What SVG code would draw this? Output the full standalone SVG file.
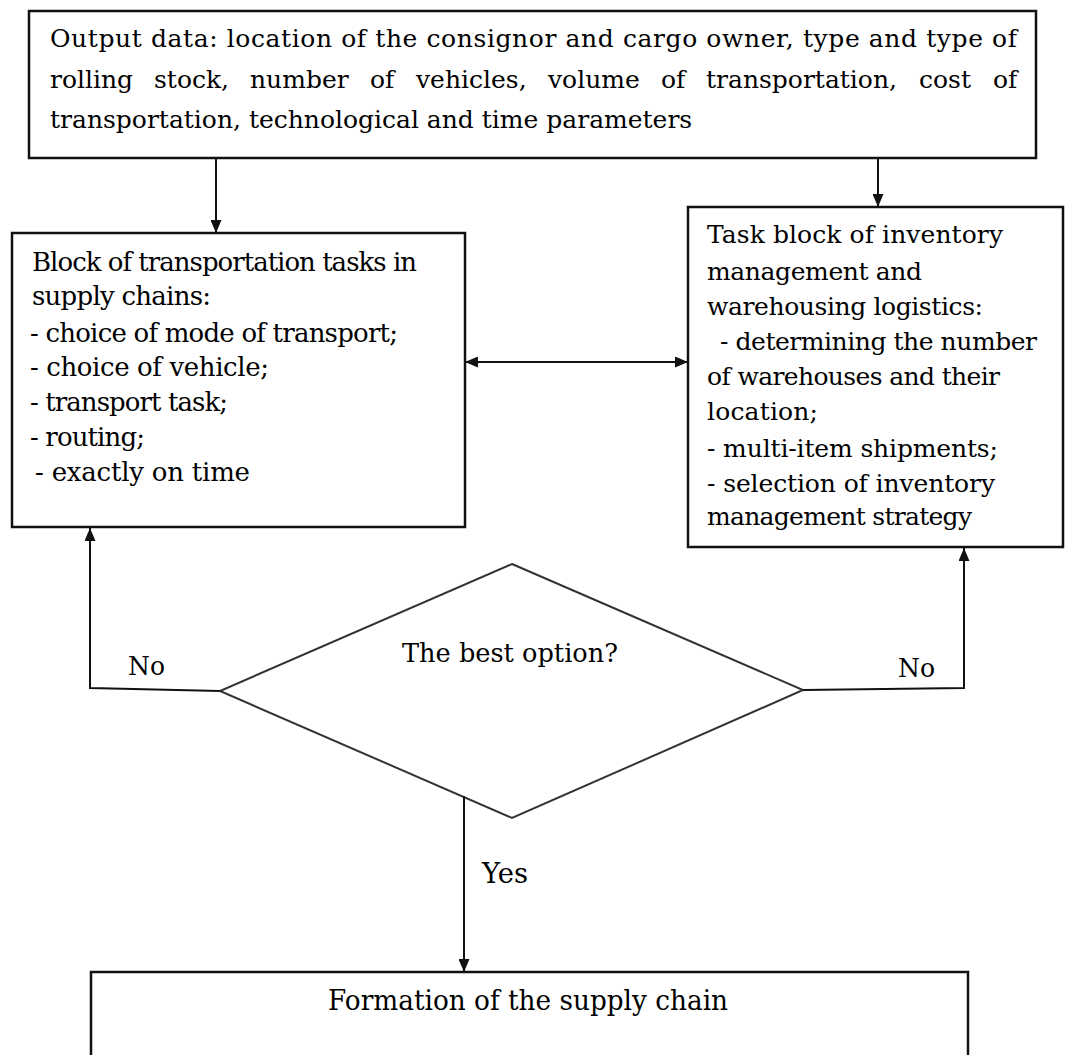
<svg xmlns="http://www.w3.org/2000/svg" width="1066" height="1055" viewBox="0 0 1066 1055">
<style>
.box{fill:#fff;stroke:#111;stroke-width:2.5}
.dia{fill:#fff;stroke:#333;stroke-width:2}
.con{fill:none;stroke:#111;stroke-width:2}
.t{font-family:"DejaVu Serif","Liberation Serif",serif;fill:#000}
.t25{font-size:25px}
.t26{font-size:26px}
.t28{font-size:28px}
</style>
<defs>
<marker id="ah" viewBox="0 0 13 11" refX="13" refY="5.5" markerWidth="13" markerHeight="11" markerUnits="userSpaceOnUse" orient="auto-start-reverse">
<path d="M0,0 L13,5.5 L0,11 z" fill="#111"/>
</marker>
</defs>
<rect width="1066" height="1055" fill="#fff"/>

<g id="node-input">
<rect class="box" x="29" y="11" width="1007" height="147"/>
<text class="t t25" x="50" y="47" textLength="967" lengthAdjust="spacing">Output data: location of the consignor and cargo owner, type and type of</text>
<text class="t t25" y="88"><tspan x="50">rolling</tspan><tspan x="154">stock,</tspan><tspan x="250">number</tspan><tspan x="370">of</tspan><tspan x="416">vehicles,</tspan><tspan x="548">volume</tspan><tspan x="661">of</tspan><tspan x="706">transportation,</tspan><tspan x="919">cost</tspan><tspan x="993">of</tspan></text>
<text class="t t25" x="50" y="128">transportation, technological and time parameters</text>
</g>

<g id="node-transport">
<rect class="box" x="12" y="233" width="453" height="294"/>
<text class="t t26" x="32" y="271" textLength="385" lengthAdjust="spacing">Block of transportation tasks in</text>
<text class="t t26" x="32" y="305" textLength="179" lengthAdjust="spacing">supply chains:</text>
<text class="t t26" x="30" y="342" textLength="368" lengthAdjust="spacing">- choice of mode of transport;</text>
<text class="t t26" x="30" y="376" textLength="239" lengthAdjust="spacing">- choice of vehicle;</text>
<text class="t t26" x="30" y="411" textLength="198" lengthAdjust="spacing">- transport task;</text>
<text class="t t26" x="30" y="446" textLength="115" lengthAdjust="spacing">- routing;</text>
<text class="t t26" x="35" y="481" textLength="215" lengthAdjust="spacing">- exactly on time</text>
</g>

<g id="node-inventory">
<rect class="box" x="688" y="207" width="375" height="340"/>
<text class="t t25" x="707" y="243" textLength="296" lengthAdjust="spacing">Task block of inventory</text>
<text class="t t25" x="707" y="280" textLength="215" lengthAdjust="spacing">management and</text>
<text class="t t25" x="707" y="315" textLength="276" lengthAdjust="spacing">warehousing logistics:</text>
<text class="t t25" x="720" y="350" textLength="317" lengthAdjust="spacing">- determining the number</text>
<text class="t t25" x="707" y="385" textLength="293" lengthAdjust="spacing">of warehouses and their</text>
<text class="t t25" x="707" y="420" textLength="111" lengthAdjust="spacing">location;</text>
<text class="t t25" x="707" y="457" textLength="291" lengthAdjust="spacing">- multi-item shipments;</text>
<text class="t t25" x="707" y="492" textLength="288" lengthAdjust="spacing">- selection of inventory</text>
<text class="t t25" x="707" y="525" textLength="265" lengthAdjust="spacing">management strategy</text>
</g>

<g id="node-decision">
<polygon class="dia" points="512,564 803,690 512,818 220,691"/>
<text class="t t26" x="402" y="662" textLength="216" lengthAdjust="spacingAndGlyphs">The best option?</text>
</g>

<g id="node-formation">
<rect class="box" x="91" y="972" width="877" height="100"/>
<text class="t t28" x="328" y="1010" textLength="400" lengthAdjust="spacingAndGlyphs">Formation of the supply chain</text>
</g>

<g id="connectors">
<line class="con" x1="216" y1="158" x2="216" y2="233" marker-end="url(#ah)"/>
<line class="con" x1="878" y1="158" x2="878" y2="207" marker-end="url(#ah)"/>
<line class="con" x1="465" y1="362" x2="688" y2="362" marker-start="url(#ah)" marker-end="url(#ah)"/>
<polyline class="con" points="220,691 90,688 90,528" marker-end="url(#ah)"/>
<polyline class="con" points="803,690 964,688 964,548" marker-end="url(#ah)"/>
<line class="con" x1="464" y1="796" x2="464" y2="972" marker-end="url(#ah)"/>
<text class="t t26" x="128" y="675" textLength="37" lengthAdjust="spacingAndGlyphs">No</text>
<text class="t t26" x="898" y="677" textLength="37" lengthAdjust="spacingAndGlyphs">No</text>
<text class="t t28" x="482" y="883" textLength="46" lengthAdjust="spacingAndGlyphs">Yes</text>
</g>
</svg>
